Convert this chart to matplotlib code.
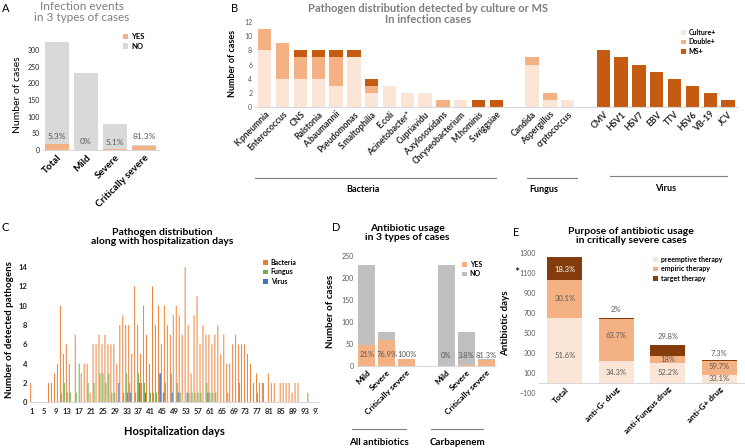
import matplotlib
matplotlib.use('Agg')
import numpy as np
import matplotlib.pyplot as plt
from matplotlib.lines import Line2D
from matplotlib.transforms import Bbox

plt.rcParams['font.family'] = ['Lato', 'DejaVu Sans']

# ---------------- data ----------------
# A: infection events
a_cases = ['Total', 'Mild', 'Severe', 'Critically severe']
a_total = [324, 230, 78, 16]
a_yes = [17, 0, 4, 13]
a_pct = ['5.3%', '0%', '5.1%', '81.3%']

# B: pathogens (culture+, double+, MS+)
b_bacteria = ['K.pneumnia', 'Enterococcus', 'CNS', 'Ralstonia', 'A.baumannii', 'Pseudomonas',
              'S.maltophilia', 'E.coli', 'Acinetobacter*', 'Cupriavidu', 'A.xylosoxidans',
              'Chryseobacterium', 'M.hominis', 'S.wiggsiae']
b_bac_culture = [8, 4, 4, 4, 3, 7, 2, 3, 2, 2, 0, 1, 0, 0]
b_bac_double = [3, 5, 3, 3, 4, 0, 1, 0, 0, 0, 1, 0, 0, 0]
b_bac_ms = [0, 0, 1, 1, 1, 1, 1, 0, 0, 0, 0, 0, 1, 1]
b_fungus = ['Candida', 'Aspergillus', 'crptococcus']
b_fun_culture = [6, 1, 1]
b_fun_double = [1, 1, 0]
b_fun_ms = [0, 0, 0]
b_virus = ['CMV', 'HSV1', 'HSV7', 'EBV', 'TTV', 'HSV6', 'VB-19', 'JCV']
b_vir_culture = [0, 0, 0, 0, 0, 0, 0, 0]
b_vir_double = [0, 0, 0, 0, 0, 0, 0, 0]
b_vir_ms = [8, 7, 6, 5, 4, 3, 2, 1]

# C: pathogens per hospitalization day (day 1..97)
c_days = list(range(1, 98))
c_bacteria = [2, 0, 0, 0, 0, 0, 2, 2, 3, 4,
              10, 5, 6, 4, 0, 7, 0, 3, 4, 4,
              1, 6, 6, 7, 6, 7, 6, 6, 6, 4,
              8, 9, 8, 8, 5, 12, 8, 5, 10, 7,
              4, 12, 8, 10, 6, 10, 8, 7, 9, 10,
              9, 7, 14, 8, 3, 9, 11, 6, 8, 7,
              7, 6, 7, 8, 5, 7, 4, 4, 6, 7,
              6, 6, 6, 5, 4, 2, 3, 2, 2, 0,
              3, 2, 2, 0, 2, 2, 2, 2, 1, 2,
              2, 0, 0, 0, 0, 0, 0]
c_fungus = [0, 0, 0, 0, 0, 0, 0, 0, 0, 0,
            1, 2, 1, 1, 0, 1, 4, 0, 0, 2,
            0, 2, 0, 3, 3, 2, 3, 1, 1, 0,
            0, 1, 3, 2, 0, 1, 3, 2, 2, 0,
            1, 1, 1, 3, 0, 2, 0, 3, 0, 2,
            1, 0, 0, 1, 1, 1, 1, 1, 0, 2,
            1, 1, 1, 0, 0, 0, 1, 0, 0, 0,
            2, 0, 0, 0, 0, 0, 1, 0, 2, 0,
            0, 0, 0, 0, 0, 0, 0, 0, 0, 0,
            0, 0, 0, 1, 0, 0, 0]
c_virus = [0, 0, 0, 0, 0, 0, 0, 0, 0, 0,
           0, 0, 0, 0, 0, 0, 0, 0, 0, 0,
           0, 0, 0, 0, 0, 0, 0, 0, 0, 2,
           0, 0, 1, 1, 0, 0, 2, 0, 1, 0,
           0, 0, 0, 3, 1, 0, 0, 1, 0, 1,
           0, 0, 1, 0, 0, 0, 0, 0, 0, 1,
           0, 0, 0, 0, 0, 0, 0, 0, 0, 0,
           0, 0, 0, 0, 0, 0, 0, 0, 0, 0,
           0, 0, 0, 0, 0, 0, 0, 0, 0, 0,
           0, 0, 0, 0, 0, 0, 0]
c_ticks = list(range(1, 98, 4))

# D: antibiotic usage
d_cases = ['Mild', 'Severe', 'Critically severe']
d_total = [230, 78, 16]
d_all_yes = [48, 60, 16]
d_carb_yes = [0, 3, 13]
d_all_pct = ['21%', '76.9%', '100%']
d_carb_pct = ['0%', '3.8%', '81.3%']

# E: purpose of antibiotic usage
e_drugs = ['Total', 'anti-G- drug', 'anti-Fungus drug', 'anti-G+ drug']
e_preemptive = [653, 225, 201, 78]
e_empiric = [381, 417, 69, 140]
e_target = [231, 13, 115, 17]
e_pct_pre = ['51.6%', '34.3%', '52.2%', '33.1%']
e_pct_emp = ['30.1%', '63.7%', '18%', '59.7%']
e_pct_tar = ['18.3%', '2%', '29.8%', '7.3%']

# ---------------- style ----------------
PEACH = '#FBE5D6'
ORANGE = '#F4B183'
RUST = '#C55A11'
BROWN = '#843C0C'
GRAY = '#D9D9D9'
DGRAY = '#BFBFBF'
TXT = '#595959'

W, H = 745, 448
fig = plt.figure(figsize=(W / 100, H / 100), dpi=100)


def box(x0, y0, x1, y1):
    # pixel box (top-left origin) -> axes rect
    return [x0 / W, 1 - y1 / H, (x1 - x0) / W, (y1 - y0) / H]


def ftext(x, y, s, **kw):
    fig.text(x / W, 1 - y / H, s, **kw)


def fline(x0, x1, y):
    fig.add_artist(Line2D([x0 / W, x1 / W], [1 - y / H] * 2, color='#7F7F7F', lw=0.8))


def clean(ax, ycol=TXT, ysize=5):
    for s in ['top', 'right', 'left']:
        ax.spines[s].set_visible(False)
    ax.spines['bottom'].set_color(GRAY)
    ax.spines['bottom'].set_linewidth(0.8)
    ax.tick_params(length=0, pad=2)
    ax.tick_params(axis='y', labelsize=ysize, labelcolor=ycol)


def leg(ax, x, y, size=5.5):
    ax.legend(loc='upper left', bbox_to_anchor=(x / W, 1 - y / H),
              bbox_transform=fig.transFigure, frameon=False,
              prop={'size': size, 'weight': 'bold'}, handlelength=0.7,
              handleheight=0.7, handletextpad=0.4, labelspacing=0.35,
              borderpad=0, borderaxespad=0)


# ---------------- A ----------------
ax = fig.add_axes(box(42.5, 40, 158.5, 150))
xa = np.arange(len(a_cases))
a_no = np.array(a_total) - np.array(a_yes)
ax.bar(xa, a_yes, width=0.86, color=ORANGE, label='YES')
ax.bar(xa, a_no, bottom=a_yes, width=0.86, color=GRAY, label='NO')
a_lab_y = [42, 26, 22, 40]
for i, p in enumerate(a_pct):
    ax.text(i, a_lab_y[i], p, ha='center', va='center', fontsize=6, color=TXT)
ax.set_xlim(-0.5, 3.5)
ax.set_ylim(0, 330)
ax.set_yticks(range(0, 301, 50))
ax.set_xticks(xa)
ax.set_xticklabels(a_cases, rotation=45, ha='right', rotation_mode='anchor',
                   fontsize=7, fontweight='bold')
clean(ax, ycol='#262626', ysize=5)
ax.set_ylabel('Number of cases', fontsize=7.5, labelpad=4)
leg(ax, 123, 33)
ftext(82, 12, 'Infection events\nin 3 types of cases', ha='center', va='center',
      fontsize=8.5, color='#7F7F7F', linespacing=0.95)
ftext(2, 8, 'A', fontsize=8, va='center')

# ---------------- B ----------------
ax = fig.add_axes(box(255, 19.2, 737, 107))
nb, nf, nv = len(b_bacteria), len(b_fungus), len(b_virus)
xb = list(range(nb)) + list(range(nb + 1, nb + 1 + nf)) + list(range(nb + nf + 2, nb + nf + 2 + nv))
names = b_bacteria + b_fungus + b_virus
cul = np.array(b_bac_culture + b_fun_culture + b_vir_culture)
dbl = np.array(b_bac_double + b_fun_double + b_vir_double)
ms = np.array(b_bac_ms + b_fun_ms + b_vir_ms)
ax.bar(xb, cul, width=0.75, color=PEACH, label='Culture+')
ax.bar(xb, dbl, bottom=cul, width=0.75, color=ORANGE, label='Double+')
ax.bar(xb, ms, bottom=cul + dbl, width=0.75, color=RUST, label='MS+')
ax.set_xlim(-0.55, max(xb) + 0.5)
ax.set_ylim(0, 12.4)
ax.set_yticks(range(0, 13, 2))
ax.set_xticks(xb)
ax.set_xticklabels(names, rotation=45, ha='right', rotation_mode='anchor',
                   fontsize=6.2, fontweight='bold', color='#262626')
clean(ax, ysize=5)
ax.set_ylabel('Number of cases', fontsize=6.5, fontweight='bold', labelpad=5)
leg(ax, 681, 29, size=5)
ftext(428, 14, 'Pathogen distribution detected by culture or MS\nIn infection cases',
      ha='center', va='center', fontsize=8, fontweight='bold', color='#7F7F7F',
      linespacing=0.95)
ftext(231, 8, 'B', fontsize=8, va='center')
fline(255, 496, 178)
fline(527, 577, 178)
fline(610, 727, 176)
ftext(363, 190, 'Bacteria', ha='center', va='center', fontsize=6.5, fontweight='bold')
ftext(544, 189, 'Fungus', ha='center', va='center', fontsize=6.5, fontweight='bold')
ftext(666, 188, 'Virus', ha='center', va='center', fontsize=6.5, fontweight='bold')

# ---------------- C ----------------
ax = fig.add_axes(box(30.2, 257.4, 318.3, 402.3))
days = np.array(c_days)
ax.bar(days - 0.33, c_bacteria, width=0.32, color='#ED7D31', label='Bacteria',
       snap=False, linewidth=0)
ax.bar(days, c_fungus, width=0.32, color='#70AD47', label='Fungus', snap=False, linewidth=0)
ax.bar(days + 0.33, c_virus, width=0.32, color='#4472C4', label='Virus', snap=False, linewidth=0)
ax.set_xlim(0.5, 97.5)
ax.set_ylim(0, 15)
ax.set_yticks(range(0, 15, 2))
ax.set_xticks(c_ticks)
ax.set_xticklabels([str(t) for t in c_ticks], fontsize=5.5, fontweight='bold', color='#262626')
clean(ax, ycol='#262626', ysize=5.5)
for lab in ax.get_yticklabels():
    lab.set_fontweight('bold')
ax.tick_params(axis='x', pad=4)
last = ax.get_xticklabels()[-1]
last.set_clip_box(Bbox.from_extents(0, 0, 318, H))
last.set_clip_on(True)
ax.set_ylabel('Number of detected pathogens', fontsize=7, fontweight='bold', labelpad=3)
ax.set_xlabel('Hospitalization days', fontsize=8, fontweight='bold', labelpad=8)
leg(ax, 263, 259, size=5)
ftext(162, 237, 'Pathogen distribution\nalong with hospitalization days', ha='center',
      va='center', fontsize=7.5, fontweight='bold', linespacing=1.0)
ftext(2, 227, 'C', fontsize=8, va='center')

# ---------------- D ----------------
ax = fig.add_axes(box(356.75, 256, 496.25, 366))
n = len(d_cases)
xd1 = np.arange(n)
xd2 = np.arange(n) + n + 1
for xs, yes, pcts, lab_y in [(xd1, d_all_yes, d_all_pct, 27), (xd2, d_carb_yes, d_carb_pct, 23)]:
    no = np.array(d_total) - np.array(yes)
    ax.bar(xs, yes, width=0.86, color=ORANGE, label='YES' if xs[0] == 0 else None)
    ax.bar(xs, no, bottom=yes, width=0.86, color=DGRAY, label='NO' if xs[0] == 0 else None)
    for x, p in zip(xs, pcts):
        ax.text(x, lab_y, p, ha='center', va='center', fontsize=5.5, color=TXT)
ax.set_xlim(-0.5, 2 * n + 0.5)
ax.set_ylim(0, 250)
ax.set_yticks(range(0, 251, 50))
ax.set_xticks(list(xd1) + list(xd2))
ax.set_xticklabels(d_cases * 2, rotation=45, ha='right', rotation_mode='anchor',
                   fontsize=6, fontweight='bold')
clean(ax, ysize=5)
ax.set_ylabel('Number of cases', fontsize=7, fontweight='bold', labelpad=5)
leg(ax, 462, 261, size=5)
ftext(407, 233, 'Antibiotic usage\nin 3 types of cases', ha='center', va='center',
      fontsize=7.5, fontweight='bold', linespacing=1.0)
ftext(332, 227, 'D', fontsize=8, va='center')
fline(352, 406, 429)
fline(431, 483, 429)
ftext(379, 442, 'All antibiotics', ha='center', va='center', fontsize=7, fontweight='bold')
ftext(457, 442, 'Carbapenem', ha='center', va='center', fontsize=7, fontweight='bold')

# ---------------- E ----------------
ax = fig.add_axes(box(539, 253, 745, 393))
xe = np.arange(len(e_drugs))
pre = np.array(e_preemptive)
emp = np.array(e_empiric)
tar = np.array(e_target)
ax.bar(xe, pre, width=0.68, color=PEACH, label='preemptive therapy')
ax.bar(xe, emp, bottom=pre, width=0.68, color=ORANGE, label='empiric therapy')
ax.bar(xe, tar, bottom=pre + emp, width=0.68, color=BROWN, label='target therapy')
e_lab_pre = [280, 110, 110, 50]
e_lab_emp = [850, 480, 240, 170]
e_lab_tar = [1140, 740, 470, 300]
for i in range(len(e_drugs)):
    ax.text(i, e_lab_pre[i], e_pct_pre[i], ha='center', va='center', fontsize=5.5, color=TXT)
    ax.text(i, e_lab_emp[i], e_pct_emp[i], ha='center', va='center', fontsize=5.5, color=TXT)
    ax.text(i, e_lab_tar[i], e_pct_tar[i], ha='center', va='center', fontsize=5.5,
            color='white' if i == 0 else TXT)
ax.set_xlim(-0.5, 3.5)
ax.set_ylim(-100, 1300)
ax.set_yticks(range(-100, 1301, 200))
clean(ax, ysize=5)
ax.spines['bottom'].set_position(('data', 0))
ax.set_xticks(xe)
ax.set_xticklabels(e_drugs, rotation=45, ha='right', rotation_mode='anchor',
                   fontsize=6, fontweight='bold')
ax.tick_params(axis='x', length=0, pad=2)
ax.set_ylabel('Antibiotic days', fontsize=7, fontweight='bold', labelpad=7)
leg(ax, 653, 256, size=5)
ftext(517, 273, '*', fontsize=9, ha='center', va='center')
ftext(631, 236, 'Purpose of antibiotic usage\nin critically severe cases', ha='center',
      va='center', fontsize=7.5, fontweight='bold', linespacing=1.0)
ftext(513, 232, 'E', fontsize=8, va='center')

fig.savefig('out.png', dpi=100)
